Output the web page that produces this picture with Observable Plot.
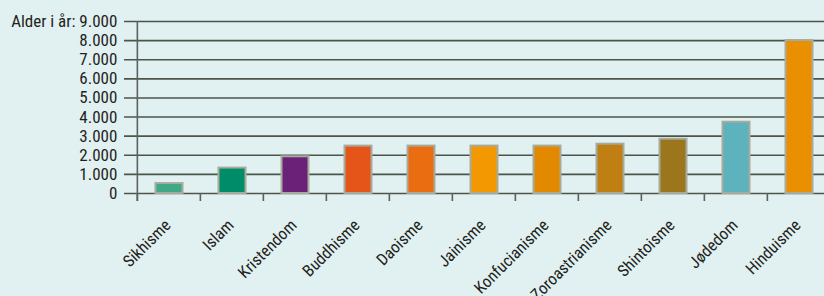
<!DOCTYPE html>
<html>
<head>
<meta charset="utf-8">
<script src="https://cdn.jsdelivr.net/npm/d3@7"></script>
<script src="https://cdn.jsdelivr.net/npm/@observablehq/plot@0.6"></script>
<style>
  html, body { margin: 0; padding: 0; background: #e1f0f1; }
  #chart svg { display: block; }
</style>
</head>
<body>
<div id="chart"></div>
<script>
const religions = ["Sikhisme", "Islam", "Kristendom", "Buddhisme", "Daoisme", "Jainisme", "Konfucianisme", "Zoroastrianisme", "Shintoisme", "Jødedom", "Hinduisme"];
const ages = [520, 1330, 1920, 2480, 2480, 2480, 2480, 2580, 2840, 3730, 8000];
const colors = ["#3fa987", "#008c68", "#6a2177", "#e55419", "#ea6d11", "#f39800", "#e38900", "#c07f12", "#9c761c", "#5cb2bd", "#ea8f00"];
const yTicks = [0, 1000, 2000, 3000, 4000, 5000, 6000, 7000, 8000, 9000];
const yLabelPrefix = "Alder i år: ";

const data = religions.map((r, i) => ({religion: r, age: ages[i], color: colors[i]}));
const fmt = d3.formatLocale({decimal: ",", thousands: ".", grouping: [3], currency: ["", ""]}).format(",");

const width = 824, height = 296;
const marginLeft = 135, marginRight = -7;
const bw = (width - marginLeft - marginRight) / religions.length;
const font = "'Liberation Sans Narrow', 'Roboto Condensed', sans-serif";

const chart = Plot.plot({
  width, height,
  marginTop: 21, marginBottom: 103, marginLeft, marginRight,
  style: {background: "#e1f0f1", fontFamily: font, fontSize: "17px", color: "#231f20"},
  x: {domain: religions, padding: 0, axis: null},
  y: {domain: [0, 9000], axis: null},
  marks: [
    Plot.ruleY(yTicks, {stroke: "#4c544c", strokeWidth: 1.6, insetLeft: -11}),
    Plot.ruleX(religions, {x: d => d, dx: -bw / 2, y1: 0, y2: 0, insetBottom: -8, stroke: "#5a625a", strokeWidth: 1.6}),
    Plot.ruleX([religions[0]], {x: d => d, dx: -bw / 2, y1: 9000, y2: 0, insetBottom: -8, stroke: "#5a625a", strokeWidth: 1.6}),
    Plot.barY(data, {x: "religion", y: "age", fill: d => d.color, stroke: "#a7ab9c", strokeWidth: 2, insetLeft: 18.5, insetRight: 17.5}),
    Plot.text(yTicks, {x: () => religions[0], y: d => d, dx: -bw / 2 - 20, text: d => (d === 9000 ? yLabelPrefix : "") + fmt(d), textAnchor: "end", fill: "#231f20", fontSize: 17}),
    Plot.text(religions, {x: d => d, y: 0, text: d => d, rotate: -45, textAnchor: "end", dx: -1, dy: 29, fill: "#231f20", fontSize: 16.5})
  ]
});
document.getElementById("chart").append(chart);
</script>
</body>
</html>
